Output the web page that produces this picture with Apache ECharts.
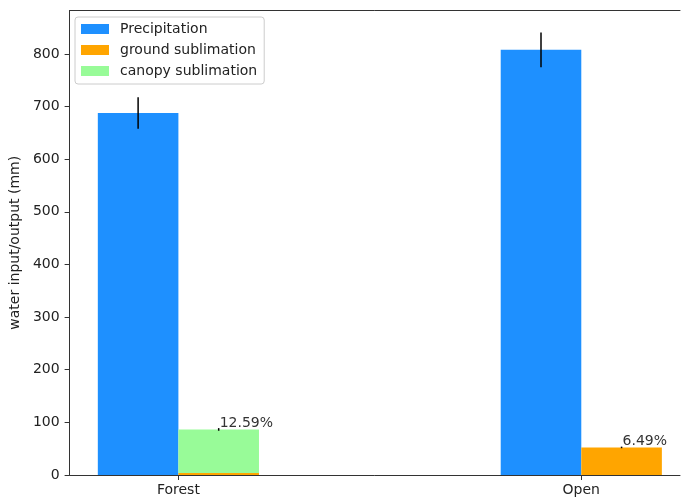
<!DOCTYPE html>
<html>
<head>
<meta charset="utf-8">
<title>Water input and sublimation</title>
<script src="https://cdn.jsdelivr.net/npm/echarts@6/dist/echarts.min.js"></script>
<style>
  html, body { margin: 0; padding: 0; background: #fff; }
  #chart { width: 681px; height: 498px; }
</style>
</head>
<body>
<div id="chart"></div>
<script>
// Sites along the x axis
const categories = ['Forest', 'Open'];
// Annual precipitation (mm) and its spread
const precipitation = [688, 808];
const precipitationErr = [30, 33];
// Sublimation losses (mm); canopy sits on top of ground sublimation
const groundSublimation = [4, 52.4];
const canopySublimation = [82.6, 0];
const sublimationErr = [2.5, 1.5];
// Y axis tick values
const yTicks = [0, 100, 200, 300, 400, 500, 600, 700, 800];

const FONT = 'DejaVu Sans';
const TEXT = '#222';
const BAR_W = 0.2;      // bar width in axis units
const OFFSET = 0.1;     // bar centre offset from the site position

// Rows: [centre x, bottom, top]
const precipRows = categories.map((c, i) => [i - OFFSET, 0, precipitation[i]]);
const groundRows = categories.map((c, i) => [i + OFFSET, 0, groundSublimation[i]]);
const canopyRows = categories.map((c, i) => [i + OFFSET, groundSublimation[i],
  groundSublimation[i] + canopySublimation[i]]);
// Error bars: [x, centre, half-range]
const precipErrRows = categories.map((c, i) => [i - OFFSET, precipitation[i], precipitationErr[i]]);
const subErrRows = categories.map((c, i) => [i + OFFSET,
  groundSublimation[i] + canopySublimation[i], sublimationErr[i]]);
// Percentage of precipitation lost to sublimation
const pctRows = categories.map((c, i) => {
  const total = groundSublimation[i] + canopySublimation[i];
  return [i + OFFSET, total, (total / precipitation[i] * 100).toFixed(2) + '%'];
});

function barItem(params, api) {
  const x = api.value(0), y0 = api.value(1), y1 = api.value(2);
  if (y1 <= y0) return null;
  const p0 = api.coord([x - BAR_W / 2, y1]);
  const p1 = api.coord([x + BAR_W / 2, y0]);
  return {
    type: 'rect',
    shape: { x: p0[0], y: p0[1], width: p1[0] - p0[0], height: p1[1] - p0[1] },
    style: { fill: api.visual('color') }
  };
}

function errItem(params, api) {
  const x = api.value(0), c = api.value(1), e = api.value(2);
  const top = api.coord([x, c + e]);
  const bot = api.coord([x, c - e]);
  return {
    type: 'line',
    shape: { x1: top[0], y1: top[1], x2: bot[0], y2: bot[1] },
    style: { stroke: '#000', lineWidth: 1.5 },
    z2: 10
  };
}

function pctItem(params, api) {
  const p = api.coord([api.value(0), api.value(1)]);
  return {
    type: 'text',
    x: p[0] + 1, y: p[1] + 1,
    style: {
      text: pctRows[params.dataIndex][2],
      font: '14px "' + FONT + '"',
      fill: '#333',
      align: 'left',
      verticalAlign: 'bottom'
    },
    z2: 20
  };
}

const chart = echarts.init(document.getElementById('chart'), null, { renderer: 'canvas' });

const xBase = {
  type: 'value',
  min: -0.27,
  max: 1.245,
  splitLine: { show: false }
};

chart.setOption({
  animation: false,
  backgroundColor: '#fff',
  textStyle: { fontFamily: FONT },
  grid: { left: 67.5, right: 1, top: 10.5, bottom: 23, containLabel: false },
  legend: {
    orient: 'vertical',
    left: 75,
    top: 17,
    padding: [5, 7, 6, 6],
    itemWidth: 28,
    itemHeight: 10,
    itemGap: 7,
    icon: 'rect',
    backgroundColor: 'rgba(255,255,255,0.8)',
    borderColor: '#ccc',
    borderWidth: 1,
    borderRadius: 3,
    textStyle: { fontFamily: FONT, fontSize: 14, color: TEXT, lineHeight: 14, padding: [0, 0, 0, 6] },
    data: ['Precipitation', 'ground sublimation', 'canopy sublimation']
  },
  xAxis: [
    Object.assign({}, xBase, {
      position: 'bottom',
      axisLine: { show: true, onZero: false, lineStyle: { color: '#333', width: 1 } },
      axisTick: { show: true, length: 5, customValues: [0, 1], lineStyle: { color: '#333' } },
      axisLabel: {
        customValues: [0, 1],
        formatter: v => categories[Math.round(v)],
        fontFamily: FONT, fontSize: 14, color: TEXT, margin: 8
      }
    }),
    Object.assign({}, xBase, {
      position: 'top',
      axisLine: { show: true, onZero: false, lineStyle: { color: '#333', width: 1 } },
      axisTick: { show: false },
      axisLabel: { show: false }
    })
  ],
  yAxis: {
    type: 'value',
    min: 0,
    max: 882.6,
    position: 'left',
    splitLine: { show: false },
    name: 'water input/output (mm)',
    nameLocation: 'middle',
    nameGap: 39,
    nameTextStyle: { fontFamily: FONT, fontSize: 14, color: TEXT },
    axisLine: { show: true, onZero: false, lineStyle: { color: '#333', width: 1 } },
    axisTick: { show: true, length: 5, customValues: yTicks, lineStyle: { color: '#333' } },
    axisLabel: { customValues: yTicks, fontFamily: FONT, fontSize: 14, color: TEXT, margin: 10 }
  },
  series: [
    {
      name: 'Precipitation', type: 'custom', xAxisIndex: 0,
      itemStyle: { color: '#1E90FF' },
      renderItem: barItem, data: precipRows, encode: { x: 0, y: [1, 2] }
    },
    {
      name: 'ground sublimation', type: 'custom', xAxisIndex: 0,
      itemStyle: { color: '#FFA500' },
      renderItem: barItem, data: groundRows, encode: { x: 0, y: [1, 2] }
    },
    {
      name: 'canopy sublimation', type: 'custom', xAxisIndex: 0,
      itemStyle: { color: '#98FB98' },
      renderItem: barItem, data: canopyRows, encode: { x: 0, y: [1, 2] }
    },
    {
      name: 'precipitation error', type: 'custom', xAxisIndex: 0, z: 5,
      renderItem: errItem, data: precipErrRows, encode: { x: 0, y: 1 }
    },
    {
      name: 'sublimation error', type: 'custom', xAxisIndex: 0, z: 5,
      renderItem: errItem, data: subErrRows, encode: { x: 0, y: 1 }
    },
    {
      name: 'sublimation share', type: 'custom', xAxisIndex: 0, z: 6,
      renderItem: pctItem, data: pctRows.map(r => [r[0], r[1]]), encode: { x: 0, y: 1 }
    }
  ]
});
</script>
</body>
</html>
